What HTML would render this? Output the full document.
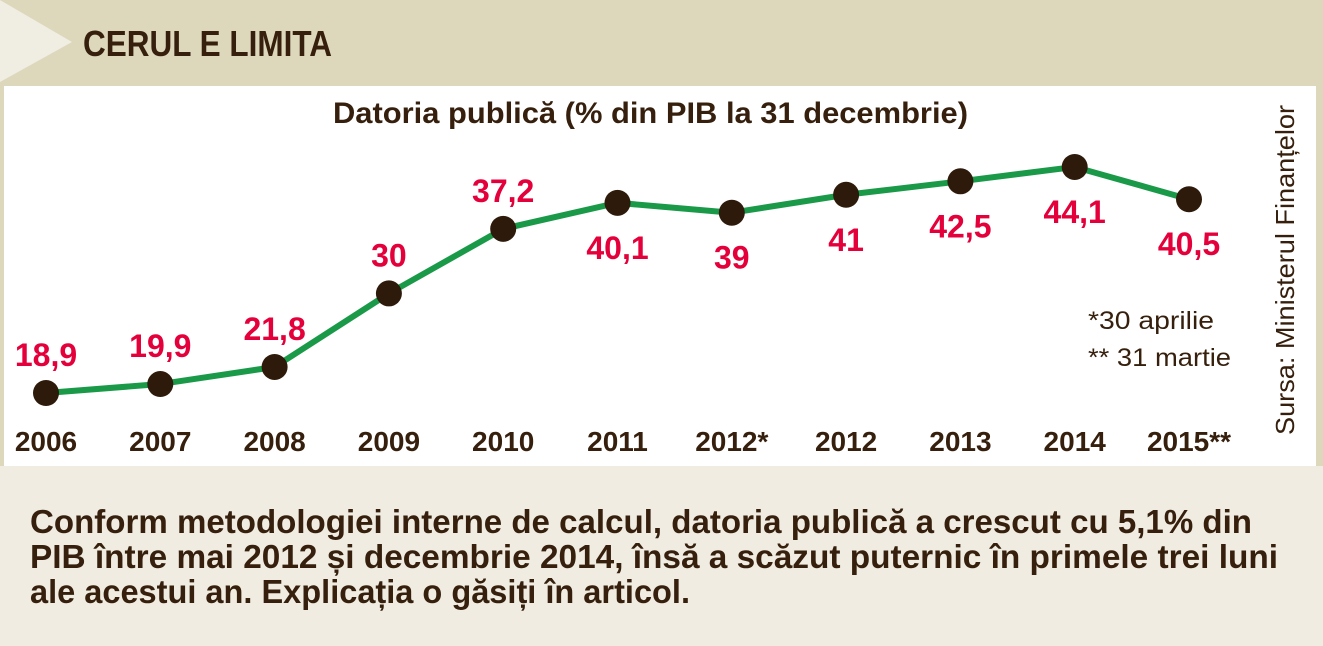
<!DOCTYPE html>
<html><head><meta charset="utf-8"><style>
html,body{margin:0;padding:0;background:#f0ece1;}
svg{display:block;font-family:"Liberation Sans",sans-serif;}
</style></head><body>
<svg width="1323" height="646" viewBox="0 0 1323 646">
<rect x="0" y="0" width="1323" height="646" fill="#f0ece1"/>
<rect x="0" y="0" width="1323" height="86" fill="#ddd7bc"/>
<rect x="1316" y="0" width="7" height="466" fill="#ddd7bc"/>
<rect x="0" y="86" width="4" height="380" fill="#ddd7bc"/>
<polygon points="0,0 72,42 0,82" fill="#f0ede2"/>
<text x="83" y="56" font-size="36" font-weight="bold" fill="#36200d" textLength="249" lengthAdjust="spacingAndGlyphs">CERUL E LIMITA</text>
<rect x="4" y="86" width="1312" height="380" fill="#ffffff"/>
<text x="333" y="123" font-size="30" font-weight="bold" fill="#36200d" textLength="635" lengthAdjust="spacingAndGlyphs">Datoria publică (% din PIB la 31 decembrie)</text>
<text transform="translate(1294,435) rotate(-90)" font-size="26" fill="#36200d" textLength="330" lengthAdjust="spacingAndGlyphs">Sursa: Ministerul Finanțelor</text>
<text x="1088" y="329" font-size="25" fill="#36200d" textLength="126" lengthAdjust="spacingAndGlyphs">*30 aprilie</text>
<text x="1088" y="366" font-size="25" fill="#36200d" textLength="143" lengthAdjust="spacingAndGlyphs">** 31 martie</text>
<g id="plot"></g>
<text x="30" y="533" font-size="33" font-weight="bold" fill="#36200d" textLength="1222" lengthAdjust="spacingAndGlyphs">Conform metodologiei interne de calcul, datoria publică a crescut cu 5,1% din</text>
<text x="30" y="568" font-size="33" font-weight="bold" fill="#36200d" textLength="1248" lengthAdjust="spacingAndGlyphs">PIB între mai 2012 și decembrie 2014, însă a scăzut puternic în primele trei luni</text>
<text x="30" y="603" font-size="33" font-weight="bold" fill="#36200d" textLength="660" lengthAdjust="spacingAndGlyphs">ale acestui an. Explicația o găsiți în articol.</text>
</svg>
<script>
const categories = ["2006","2007","2008","2009","2010","2011","2012*","2012","2013","2014","2015**"];
const values = [18.9,19.9,21.8,30,37.2,40.1,39,41,42.5,44.1,40.5];
const valueLabels = ["18,9","19,9","21,8","30","37,2","40,1","39","41","42,5","44,1","40,5"];
const labelBelow = [false,false,false,false,false,true,true,true,true,true,true];
const NS = "http://www.w3.org/2000/svg";
const g = document.getElementById("plot");
function xScale(i){ return 46 + i * 114.3; }
function yScale(v){ return 393 - (v - 18.9) * 8.97; }
function mk(tag, attrs){ const e = document.createElementNS(NS, tag); for (const k in attrs) e.setAttribute(k, attrs[k]); g.appendChild(e); return e; }
const pts = values.map((v,i)=>xScale(i)+","+yScale(v)).join(" ");
const line = mk("polyline",{points:pts,fill:"none",stroke:"#1a9a48","stroke-width":6,"stroke-linejoin":"round"});


values.forEach((v,i)=>{
  const x = xScale(i), y = yScale(v);
  const c = mk("circle",{cx:x,cy:y,r:13,fill:"#2e1a0a"});
  
  
  const ly = labelBelow[i] ? y + 56 : y - 27;
  const t = mk("text",{x:x,y:ly,"text-anchor":"middle","font-size":32,"font-weight":"bold",fill:"#e4003a"});
  t.textContent = valueLabels[i];
  
  
  const yl = mk("text",{x:x,y:451,"text-anchor":"middle","font-size":28,"font-weight":"bold",fill:"#36200d"});
  yl.textContent = categories[i];
  
  
});
</script>
</body></html>
